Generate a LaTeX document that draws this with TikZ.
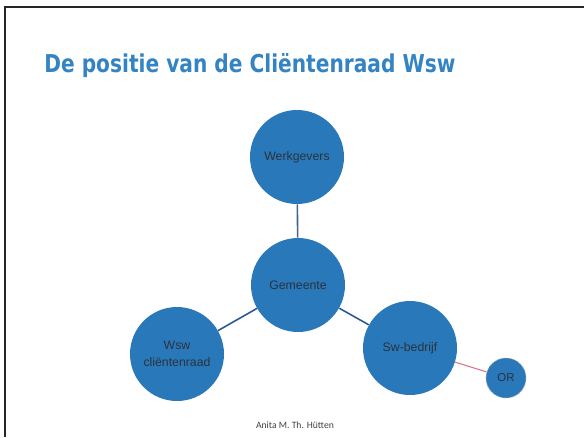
\documentclass[tikz,border=0pt]{standalone}
\usepackage{fontspec}
\setmainfont{Liberation Sans}
\newfontfamily\titlefont{DejaVu Sans}
\newfontfamily\footfont{Carlito}
\definecolor{bubbleblue}{RGB}{40,120,186}
\definecolor{titleblue}{RGB}{52,132,196}
\definecolor{linkblue}{RGB}{44,88,150}
\definecolor{linkpink}{RGB}{226,112,130}
\definecolor{labelgray}{RGB}{45,50,60}
\tikzset{
  bubble/.style={circle, fill=bubbleblue, minimum size=1.88cm, inner sep=0pt,
    align=center, font=\fontsize{7}{8.5}\selectfont, text=labelgray},
  smallbubble/.style={circle, fill=bubbleblue, minimum size=0.8cm, inner sep=0pt,
    draw=gray!70, densely dotted, line width=0.5pt,
    font=\fontsize{6.5}{8}\selectfont, text=labelgray},
  link/.style={line width=0.9pt, draw=linkblue}
}
\begin{document}
\begin{tikzpicture}[x=0.02cm,y=-0.02cm]
  \useasboundingbox (0,0) rectangle (584,437);
  \fill[white] (0,0) rectangle (584,437);

  % frame of the slide
  \draw[line width=1.2pt, black!85] (5,437) -- (5,7) -- (584,7);

  \node[anchor=west, inner sep=0pt, text=titleblue] (title) at (44,66)
    {\scalebox{0.82}[1]{\titlefont\bfseries\fontsize{14}{17}\selectfont De positie van de Cliëntenraad Wsw}};

  \node[bubble] (werk) at (297,157) {Werkgevers};
  \node[bubble] (gem) at (298,285) {Gemeente};
  \node[bubble] (wsw) at (177,354) {Wsw\\[1pt]cliëntenraad};
  \node[bubble] (sw) at (410,348) {Sw-bedrijf};
  \node[smallbubble] (or) at (506,378) {OR};

  \draw[link, draw=linkblue!70!gray] (werk) -- (gem);
  \draw[link] (gem) -- (wsw);
  \draw[link] (gem) -- (sw);
  \draw[line width=0.6pt, draw=linkpink] (sw) -- (or);

  \node[inner sep=0pt, text=black!75] (author) at (295,425)
    {\footfont\fontsize{5.5}{7}\selectfont Anita M. Th. Hütten};

\end{tikzpicture}
\end{document}
